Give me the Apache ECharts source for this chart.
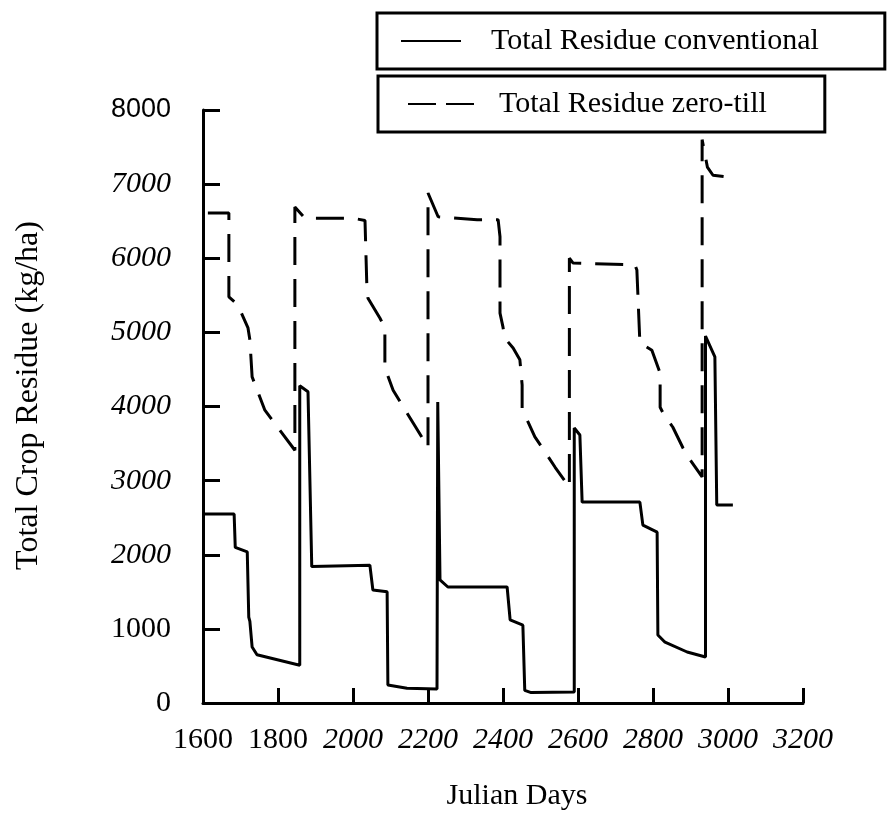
<!DOCTYPE html>
<html>
<head>
<meta charset="utf-8">
<script src="https://cdn.jsdelivr.net/npm/echarts@6/dist/echarts.min.js"></script>
<style>
  html, body { margin: 0; padding: 0; background: #fff; }
  #chart { width: 894px; height: 817px; }
</style>
</head>
<body>
<div id="chart"></div>
<script>
// Total residue, conventional tillage (Julian day, kg/ha)
const convDays = [1600, 1683, 1686, 1718, 1722, 1725, 1731, 1744, 1858, 1858, 1880, 1890,
  2045, 2053, 2091, 2093, 2144, 2224, 2226, 2232, 2253, 2411, 2419, 2453, 2458, 2475, 2590,
  2590, 2605, 2611, 2765, 2773, 2811, 2813, 2832, 2891, 2940, 2940, 2965, 2970, 3013];
const convResidue = [2550, 2550, 2100, 2040, 1160, 1100, 755, 650, 510, 4280, 4200, 1840,
  1860, 1525, 1500, 243, 200, 190, 4060, 1660, 1565, 1565, 1120, 1050, 170, 140, 150,
  3710, 3615, 2710, 2710, 2400, 2305, 917, 820, 688, 620, 4950, 4670, 2670, 2670];

// Total residue, zero-till (Julian day, kg/ha)
const zeroDays = [1613, 1669, 1669, 1693, 1720, 1725, 1731, 1765, 1805, 1845,
  1845, 1872, 2000, 2032, 2037, 2040, 2072, 2085, 2085, 2107, 2160, 2200,
  2200, 2227, 2331, 2387, 2392, 2392, 2400, 2405, 2427, 2445, 2451, 2451, 2467, 2485, 2517, 2539, 2577,
  2577, 2587, 2752, 2757, 2765, 2797, 2819, 2819, 2827, 2853, 2880, 2899, 2931,
  2931, 2945, 2960, 2992];
const zeroResidue = [6610, 6610, 5480, 5370, 5060, 4900, 4400, 3950, 3680, 3410,
  6690, 6540, 6540, 6510, 5610, 5460, 5190, 5060, 4520, 4220, 3780, 3450,
  6880, 6560, 6520, 6520, 6290, 5260, 5070, 4920, 4790, 4630, 4290, 3950, 3790, 3590, 3350, 3180, 2910,
  6000, 5935, 5910, 5840, 4860, 4760, 4450, 3990, 3910, 3720, 3440, 3280, 3050,
  7600, 7230, 7120, 7100];

const seriesNames = ['Total Residue conventional', 'Total Residue zero-till'];
const xTicks = [1600, 1800, 2000, 2200, 2400, 2600, 2800, 3000, 3200];
const yTicks = [0, 1000, 2000, 3000, 4000, 5000, 6000, 7000, 8000];

const pairs = (xs, ys) => xs.map((x, i) => [x, ys[i]]);

// the scanned figure mixes typefaces on its tick labels
const yStyle = v => (v === 8000 ? 'sans' : (v <= 1000 ? 'up' : 'it'));
const xStyle = v => (v <= 1800 ? 'up' : 'it');
const serif = 'Liberation Serif, Times New Roman, serif';
const rich = {
  sans: { fontFamily: 'Liberation Sans, Arial, sans-serif', fontSize: 27, color: '#000' },
  up: { fontFamily: serif, fontSize: 30, color: '#000' },
  it: { fontFamily: serif, fontSize: 30, fontStyle: 'italic', color: '#000' }
};

const chart = echarts.init(document.getElementById('chart'));
chart.setOption({
  animation: false,
  backgroundColor: '#fff',
  grid: { left: 203, right: 91, top: 110, bottom: 114, containLabel: false, outerBoundsMode: 'none' },
  legend: [{
    data: [seriesNames[0]],
    left: 377, top: 13,
    itemWidth: 60, itemHeight: 20,
    padding: [13, 66, 13, 23],
    borderColor: '#000', borderWidth: 3,
    itemStyle: { opacity: 0 },
    textStyle: { fontFamily: serif, fontSize: 30, color: '#000', padding: [0, 0, 0, 25] }
  }, {
    data: [seriesNames[1]],
    left: 378, top: 76,
    itemWidth: 66, itemHeight: 20,
    padding: [13, 58, 13, 29],
    borderColor: '#000', borderWidth: 3,
    itemStyle: { opacity: 0 },
    lineStyle: { type: [28, 10] },
    textStyle: { fontFamily: serif, fontSize: 30, color: '#000', padding: [0, 0, 0, 20] }
  }],
  xAxis: {
    type: 'value',
    min: xTicks[0], max: xTicks[xTicks.length - 1], interval: 200,
    name: 'Julian Days',
    nameLocation: 'middle',
    nameGap: 78,
    nameTextStyle: { fontFamily: serif, fontSize: 30, color: '#000', padding: [0, 0, 0, 28] },
    axisLine: { onZero: false, lineStyle: { color: '#000', width: 3 } },
    axisTick: { inside: true, length: 15, lineStyle: { color: '#000', width: 3 } },
    axisLabel: {
      margin: 22,
      formatter: v => `{${xStyle(v)}|${v}}`,
      rich: rich
    },
    splitLine: { show: false }
  },
  yAxis: {
    type: 'value',
    min: yTicks[0], max: yTicks[yTicks.length - 1], interval: 1000,
    name: 'Total Crop Residue (kg/ha)',
    nameLocation: 'middle',
    nameGap: 158,
    nameTextStyle: { fontFamily: serif, fontSize: 32, color: '#000', padding: [0, 0, 0, 22] },
    axisLine: { show: true, lineStyle: { color: '#000', width: 3 } },
    axisTick: { show: true, inside: true, length: 17, lineStyle: { color: '#000', width: 3 } },
    axisLabel: {
      margin: 32,
      formatter: v => `{${yStyle(v)}|${v}}`,
      rich: rich
    },
    splitLine: { show: false }
  },
  series: [{
    name: seriesNames[0],
    type: 'line',
    symbol: 'none',
    data: pairs(convDays, convResidue),
    lineStyle: { color: '#000', width: 3, type: 'solid' },
    itemStyle: { color: '#000' }
  }, {
    name: seriesNames[1],
    type: 'line',
    symbol: 'none',
    data: pairs(zeroDays, zeroResidue),
    lineStyle: { color: '#000', width: 3, type: [28, 14] },
    itemStyle: { color: '#000' }
  }]
});
</script>
</body>
</html>
